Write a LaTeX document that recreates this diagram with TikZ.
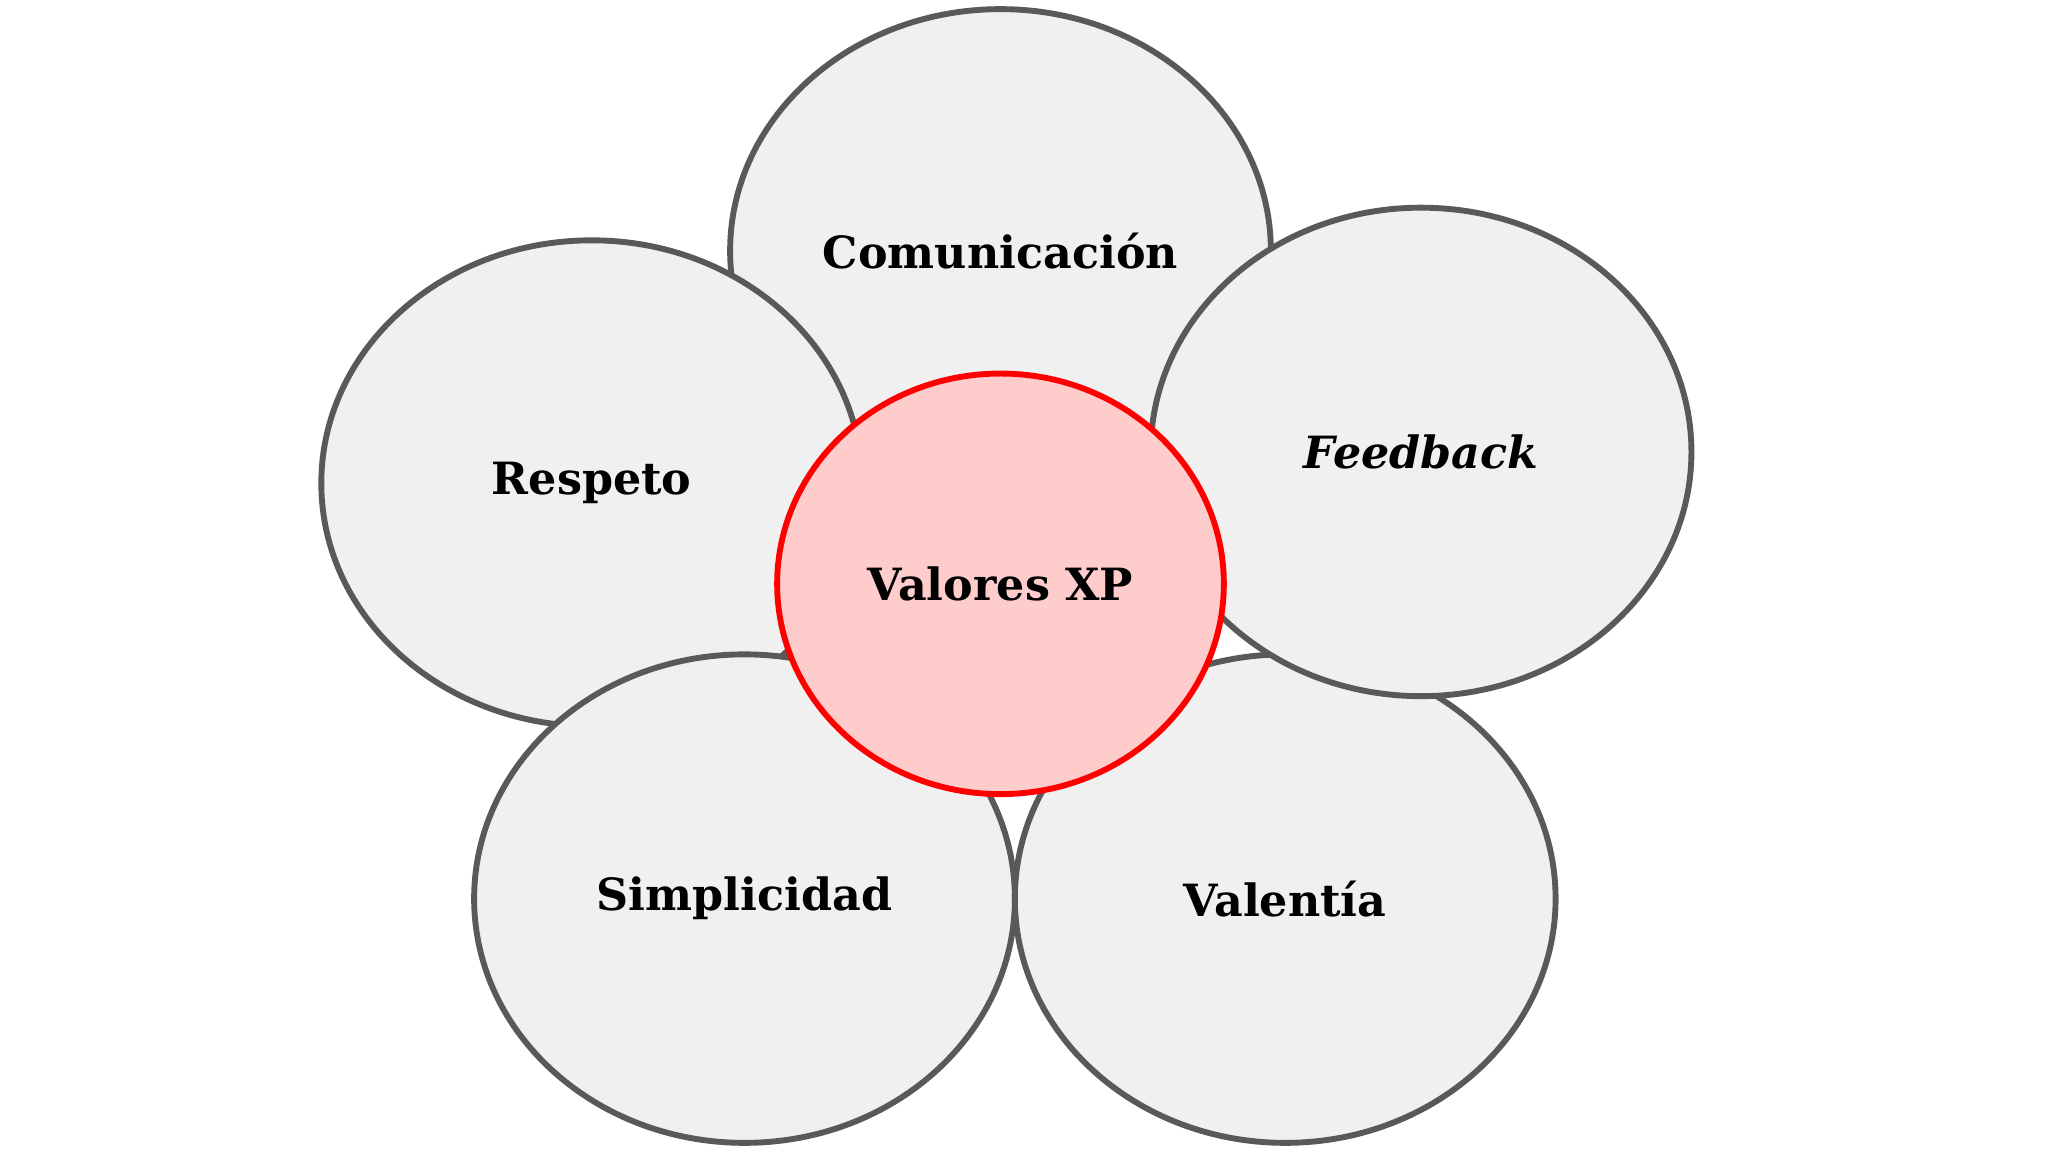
\documentclass[tikz,border=0pt]{standalone}
\usepackage{fontspec}
\setmainfont{DejaVu Serif}
\begin{document}
\begin{tikzpicture}[x=1pt,y=-1pt,
  petal/.style={draw=black!65,line width=4.5pt,fill=black!6},
  lbl/.style={font=\fontsize{34}{40}\selectfont\bfseries}]
\useasboundingbox (0,0) rectangle (1568,882);
\fill[white] (0,0) rectangle (1568,882);
\draw[petal] (766,192) ellipse [x radius=207,y radius=185];
\node[lbl] (com) at (766,192) {Comunicación};
\draw[petal] (453,370) ellipse [x radius=207,y radius=186];
\node[lbl] (res) at (453,370) {Respeto};
\draw[petal] (570,688) ellipse [x radius=207,y radius=187];
\node[lbl] (sim) at (570,688) {Simplicidad};
\draw[petal] (984,688) ellipse [x radius=207,y radius=187];
\node[lbl] (val) at (984,688) {Valentía};
\draw[petal] (1088,346) ellipse [x radius=207,y radius=187];
\node[lbl] (fee) at (1088,346) {\itshape Feedback};
\draw[draw=red,line width=4.5pt,fill=red!20!white] (766,447) ellipse [x radius=171,y radius=161];
\node[lbl] (xp) at (766,447) {Valores XP};
\end{tikzpicture}
\end{document}
